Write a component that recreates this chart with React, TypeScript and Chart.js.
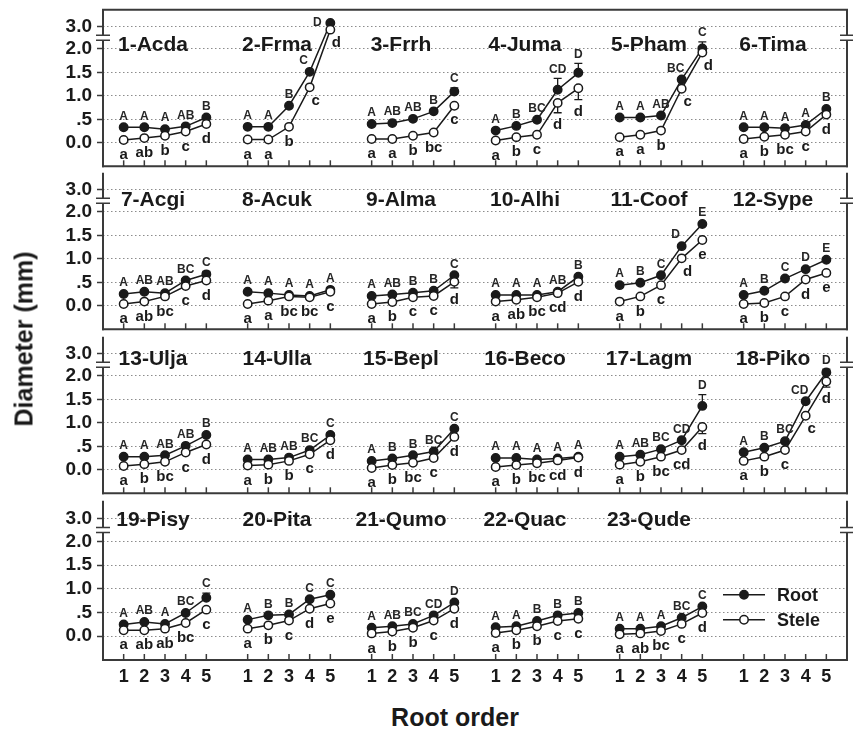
import React, { useEffect, useRef } from 'react';
import { Chart, registerables } from 'chart.js';

Chart.register(...registerables);

const FONT = '"Liberation Sans", Arial, Helvetica, sans-serif';

// ---------------- data ----------------
const panelNames = [
  '1-Acda', '2-Frma', '3-Frrh', '4-Juma', '5-Pham', '6-Tima',
  '7-Acgi', '8-Acuk', '9-Alma', '10-Alhi', '11-Coof', '12-Sype',
  '13-Ulja', '14-Ulla', '15-Bepl', '16-Beco', '17-Lagm', '18-Piko',
  '19-Pisy', '20-Pita', '21-Qumo', '22-Quac', '23-Qude',
];
const rootOrders = [1, 2, 3, 4, 5];
const yTickValues = [0, 0.5, 1.0, 1.5, 2.0, 3.0];
const yTickLabels = ['0.0', '.5', '1.0', '1.5', '2.0', '3.0'];
const seriesNames = ['Root', 'Stele'];

const rootDiameter: number[][] = [
  [0.33, 0.33, 0.29, 0.35, 0.54],
  [0.34, 0.34, 0.79, 1.51, 3.17],
  [0.40, 0.42, 0.51, 0.67, 1.09],
  [0.26, 0.36, 0.49, 1.13, 1.49],
  [0.54, 0.54, 0.58, 1.35, 2.02],
  [0.33, 0.33, 0.31, 0.38, 0.72],
  [0.25, 0.30, 0.27, 0.54, 0.67],
  [0.30, 0.27, 0.23, 0.21, 0.34],
  [0.21, 0.24, 0.28, 0.32, 0.65],
  [0.23, 0.23, 0.23, 0.30, 0.62],
  [0.44, 0.49, 0.65, 1.27, 1.74],
  [0.23, 0.32, 0.58, 0.78, 0.98],
  [0.28, 0.28, 0.31, 0.51, 0.74],
  [0.22, 0.22, 0.26, 0.42, 0.74],
  [0.19, 0.24, 0.31, 0.39, 0.875],
  [0.25, 0.25, 0.22, 0.24, 0.28],
  [0.28, 0.32, 0.44, 0.63, 1.36],
  [0.375, 0.47, 0.61, 1.46, 2.15],
  [0.25, 0.30, 0.26, 0.49, 0.81],
  [0.35, 0.44, 0.46, 0.78, 0.875],
  [0.18, 0.21, 0.26, 0.44, 0.71],
  [0.19, 0.21, 0.32, 0.44, 0.49],
  [0.16, 0.16, 0.21, 0.39, 0.625],
];

const steleDiameter: number[][] = [
  [0.06, 0.10, 0.15, 0.24, 0.40],
  [0.07, 0.07, 0.34, 1.18, 2.87],
  [0.08, 0.08, 0.15, 0.22, 0.79],
  [0.05, 0.12, 0.17, 0.85, 1.16],
  [0.12, 0.17, 0.26, 1.15, 1.92],
  [0.08, 0.13, 0.17, 0.24, 0.60],
  [0.04, 0.09, 0.20, 0.42, 0.54],
  [0.04, 0.11, 0.20, 0.18, 0.30],
  [0.04, 0.08, 0.18, 0.21, 0.51],
  [0.09, 0.13, 0.18, 0.27, 0.51],
  [0.09, 0.20, 0.44, 1.01, 1.40],
  [0.04, 0.06, 0.20, 0.56, 0.70],
  [0.08, 0.12, 0.17, 0.37, 0.54],
  [0.09, 0.11, 0.19, 0.33, 0.63],
  [0.04, 0.10, 0.15, 0.25, 0.70],
  [0.06, 0.10, 0.14, 0.20, 0.26],
  [0.11, 0.17, 0.28, 0.42, 0.91],
  [0.19, 0.28, 0.42, 1.15, 1.88],
  [0.125, 0.125, 0.16, 0.28, 0.56],
  [0.16, 0.23, 0.33, 0.58, 0.69],
  [0.06, 0.10, 0.18, 0.33, 0.58],
  [0.07, 0.125, 0.21, 0.32, 0.37],
  [0.04, 0.06, 0.11, 0.26, 0.49],
];

const rootError: number[][] = [
  [0, 0, 0, 0, 0], [0, 0, 0, 0, 0], [0, 0, 0, 0, 0.08], [0, 0, 0, 0.24, 0.2],
  [0, 0, 0, 0, 0.3], [0, 0, 0, 0, 0], [0, 0, 0, 0.03, 0.06], [0, 0, 0, 0, 0],
  [0, 0, 0, 0, 0], [0, 0, 0, 0, 0], [0, 0, 0, 0, 0], [0, 0, 0, 0, 0],
  [0, 0, 0, 0, 0], [0, 0, 0, 0, 0.05], [0, 0, 0, 0, 0], [0, 0, 0, 0, 0],
  [0, 0, 0, 0, 0.24], [0, 0, 0, 0, 0.15], [0, 0, 0, 0, 0.1], [0, 0, 0, 0, 0],
  [0, 0, 0, 0, 0], [0, 0, 0, 0, 0], [0, 0, 0, 0, 0],
];

const steleError: number[][] = [
  [0, 0, 0, 0, 0], [0, 0, 0, 0, 0], [0, 0, 0, 0, 0.05], [0, 0, 0, 0.21, 0.24],
  [0, 0, 0, 0, 0], [0, 0, 0, 0, 0], [0, 0, 0, 0, 0], [0, 0, 0, 0, 0],
  [0, 0, 0, 0, 0.13], [0, 0, 0, 0, 0], [0, 0, 0, 0, 0], [0, 0, 0, 0, 0],
  [0, 0, 0, 0, 0], [0, 0, 0, 0, 0], [0, 0, 0, 0, 0], [0, 0, 0, 0, 0],
  [0, 0, 0, 0, 0.14], [0, 0, 0, 0, 0.12], [0, 0, 0, 0, 0], [0, 0, 0, 0, 0],
  [0, 0, 0, 0, 0], [0, 0, 0, 0, 0], [0, 0, 0, 0, 0],
];

const rootLetters: string[][] = [
  ['A', 'A', 'A', 'AB', 'B'], ['A', 'A', 'B', 'C', 'D'], ['A', 'AB', 'AB', 'B', 'C'],
  ['A', 'B', 'BC', 'CD', 'D'], ['A', 'A', 'AB', 'BC', 'C'], ['A', 'A', 'A', 'A', 'B'],
  ['A', 'AB', 'AB', 'BC', 'C'], ['A', 'A', 'A', 'A', 'A'], ['A', 'AB', 'B', 'B', 'C'],
  ['A', 'A', 'A', 'AB', 'B'], ['A', 'B', 'C', 'D', 'E'], ['A', 'B', 'C', 'D', 'E'],
  ['A', 'A', 'AB', 'AB', 'B'], ['A', 'AB', 'AB', 'BC', 'C'], ['A', 'B', 'B', 'BC', 'C'],
  ['A', 'A', 'A', 'A', 'A'], ['A', 'AB', 'BC', 'CD', 'D'], ['A', 'B', 'BC', 'CD', 'D'],
  ['A', 'AB', 'A', 'BC', 'C'], ['A', 'B', 'B', 'C', 'C'], ['A', 'AB', 'BC', 'CD', 'D'],
  ['A', 'A', 'B', 'B', 'B'], ['A', 'A', 'A', 'BC', 'C'],
];

const steleLetters: string[][] = [
  ['a', 'ab', 'b', 'c', 'd'], ['a', 'a', 'b', 'c', 'd'], ['a', 'a', 'b', 'bc', 'c'],
  ['a', 'b', 'c', 'd', 'd'], ['a', 'a', 'b', 'c', 'd'], ['a', 'b', 'bc', 'c', 'd'],
  ['a', 'ab', 'bc', 'c', 'd'], ['a', 'a', 'bc', 'bc', 'c'], ['a', 'b', 'c', 'c', 'd'],
  ['a', 'ab', 'bc', 'cd', 'd'], ['a', 'b', 'c', 'd', 'e'], ['a', 'b', 'c', 'd', 'e'],
  ['a', 'b', 'bc', 'c', 'd'], ['a', 'b', 'b', 'c', 'd'], ['a', 'b', 'bc', 'c', 'd'],
  ['a', 'b', 'bc', 'cd', 'd'], ['a', 'b', 'bc', 'cd', 'd'], ['a', 'b', 'c', 'c', 'd'],
  ['a', 'ab', 'ab', 'bc', 'c'], ['a', 'b', 'c', 'd', 'e'], ['a', 'b', 'b', 'c', 'd'],
  ['a', 'b', 'b', 'c', 'c'], ['a', 'ab', 'bc', 'c', 'd'],
];

// ---------------- layout / style ----------------
const PANELS_PER_ROW = 6;
const PANEL_STEP = 6;
const ROW_TOPS = [8, 171, 335, 499];
const ROW_HEIGHTS = [160, 160, 160, 161];
const TITLE_DY = [18, 10, 5, 1];
const PX_PER_UNIT = 48;
const Y_MIN = -0.5;
const BREAK_LOW = 2;
const BREAK_HIGH = 3;
const BREAK_FACTOR = 0.47;
const INK = '#1a1a1a';
const FRAME = '#3a3a3a';

const brk = (v: number) => (v <= BREAK_LOW ? v : BREAK_LOW + (v - BREAK_LOW) * BREAK_FACTOR);

const xTickPositions: number[] = [];
for (let c = 0; c < PANELS_PER_ROW; c++) rootOrders.forEach((o) => xTickPositions.push(c * PANEL_STEP + o));

function panelsOfRow(row: number) {
  const out: number[] = [];
  for (let c = 0; c < PANELS_PER_ROW; c++) {
    const p = row * PANELS_PER_ROW + c;
    if (p < panelNames.length) out.push(p);
  }
  return out;
}

function makeDecor(row: number, isLast: boolean) {
  const panels = panelsOfRow(row);
  return {
    id: 'decor' + row,
    beforeDatasetsDraw(chart: any) {
      const { ctx, scales } = chart;
      const xs = scales.x, ys = scales.y;
      ctx.save();
      ctx.strokeStyle = INK;
      ctx.lineWidth = 1.3;
      panels.forEach((p, c) => {
        rootOrders.forEach((o, i) => {
          const x = xs.getPixelForValue(c * PANEL_STEP + o);
          const draw = (v: number, e: number) => {
            const y0 = ys.getPixelForValue(brk(v));
            const y1 = ys.getPixelForValue(brk(v + e));
            ctx.beginPath();
            ctx.moveTo(x, y0);
            ctx.lineTo(x, y1);
            ctx.moveTo(x - 4, y1);
            ctx.lineTo(x + 4, y1);
            ctx.stroke();
          };
          if (rootError[p][i] > 0) draw(rootDiameter[p][i], rootError[p][i]);
          if (steleError[p][i] > 0) draw(steleDiameter[p][i], -steleError[p][i]);
        });
      });
      ctx.restore();
    },
    afterDraw(chart: any) {
      const { ctx, chartArea: a, scales } = chart;
      const xs = scales.x, ys = scales.y;
      ctx.save();

      // significance letters
      ctx.textAlign = 'center';
      ctx.textBaseline = 'middle';
      panels.forEach((p, c) => {
        rootOrders.forEach((o, i) => {
          const x = xs.getPixelForValue(c * PANEL_STEP + o);
          const rv = rootDiameter[p][i];
          const re = rootError[p][i];
          let ux = x;
          let uy = ys.getPixelForValue(brk(rv + re)) - (re > 0 ? 9 : 11);
          const rRise = i > 0 ? rv - rootDiameter[p][i - 1] : 0;
          if (re === 0 && rRise > 0.5) ux -= 6;
          if (uy < a.top + 8) {
            uy = ys.getPixelForValue(brk(rv));
            ux = x - 13;
          }
          ctx.font = `bold 12px ${FONT}`;
          ctx.fillStyle = '#262626';
          ctx.fillText(rootLetters[p][i], ux, uy);
          const sv = steleDiameter[p][i];
          const se = steleError[p][i];
          let lx = x;
          let ly = ys.getPixelForValue(brk(sv - se)) + (se > 0 ? 12 : 15);
          const sRise = i > 0 ? sv - steleDiameter[p][i - 1] : 0;
          if (se === 0 && sRise > 0.5) {
            lx += 6;
            ly -= 2;
          }
          ctx.font = `bold 15px ${FONT}`;
          ctx.fillStyle = INK;
          ctx.fillText(steleLetters[p][i], lx, ly);
        });
        ctx.font = `bold 21px ${FONT}`;
        ctx.fillStyle = INK;
        ctx.fillText(
          panelNames[p],
          xs.getPixelForValue(c * PANEL_STEP + 3) - 12,
          ys.getPixelForValue(brk(BREAK_HIGH)) + TITLE_DY[row],
        );
      });

      // frame with axis breaks
      const yBreak = ys.getPixelForValue((BREAK_LOW + brk(BREAK_HIGH)) / 2);
      const gap = 2.5;
      ctx.strokeStyle = FRAME;
      ctx.lineWidth = 2;
      [a.left, a.right].forEach((x: number) => {
        ctx.beginPath();
        ctx.moveTo(x, a.top);
        ctx.lineTo(x, yBreak - gap);
        ctx.moveTo(x, yBreak + gap);
        ctx.lineTo(x, a.bottom + 1);
        ctx.stroke();
        ctx.save();
        ctx.lineWidth = 1.5;
        ctx.beginPath();
        ctx.moveTo(x - 7, yBreak - gap);
        ctx.lineTo(x + 7, yBreak - gap);
        ctx.moveTo(x - 7, yBreak + gap);
        ctx.lineTo(x + 7, yBreak + gap);
        ctx.stroke();
        ctx.restore();
      });
      ctx.beginPath();
      ctx.moveTo(a.left - 1, a.bottom);
      ctx.lineTo(a.right + 1, a.bottom);
      if (row === 0) {
        ctx.moveTo(a.left - 1, a.top);
        ctx.lineTo(a.right + 1, a.top);
      }
      ctx.stroke();

      ctx.lineWidth = 1.5;
      xTickPositions.forEach((v) => {
        const x = xs.getPixelForValue(v);
        ctx.beginPath();
        ctx.moveTo(x, a.bottom);
        ctx.lineTo(x, a.bottom - 6);
        ctx.stroke();
      });

      if (isLast) {
        const lx = a.left + 620;
        const rows = [a.top + 94, a.top + 119];
        seriesNames.forEach((name, k) => {
          const y = rows[k];
          ctx.strokeStyle = INK;
          ctx.lineWidth = 1.5;
          ctx.beginPath();
          ctx.moveTo(lx, y);
          ctx.lineTo(lx + 42, y);
          ctx.stroke();
          ctx.beginPath();
          ctx.arc(lx + 21, y, 4.2, 0, Math.PI * 2);
          ctx.fillStyle = k === 0 ? INK : '#ffffff';
          ctx.fill();
          ctx.stroke();
          ctx.fillStyle = INK;
          ctx.font = `bold 18px ${FONT}`;
          ctx.textAlign = 'left';
          ctx.textBaseline = 'middle';
          ctx.fillText(name, lx + 54, y + 1);
        });
      }
      ctx.restore();
    },
  };
}

function RowChart({ row }: { row: number }) {
  const ref = useRef<HTMLCanvasElement>(null);
  const isLast = row === ROW_TOPS.length - 1;
  const padTop = 4;
  const padBottom = isLast ? 2 : 4;
  const xAxisH = isLast ? 34 : 0;
  const height = ROW_HEIGHTS[row] + padTop + padBottom + xAxisH;

  useEffect(() => {
    if (!ref.current) return;
    const panels = panelsOfRow(row);
    const rootData: any[] = [];
    const steleData: any[] = [];
    panels.forEach((p, c) => {
      rootOrders.forEach((o, i) => {
        rootData.push({ x: c * PANEL_STEP + o, y: brk(rootDiameter[p][i]) });
        steleData.push({ x: c * PANEL_STEP + o, y: brk(steleDiameter[p][i]) });
      });
      rootData.push({ x: c * PANEL_STEP + 5.5, y: null });
      steleData.push({ x: c * PANEL_STEP + 5.5, y: null });
    });
    const yMax = Y_MIN + ROW_HEIGHTS[row] / PX_PER_UNIT;

    const chart = new Chart(ref.current, {
      type: 'line',
      data: {
        datasets: [
          {
            label: seriesNames[1],
            data: steleData,
            borderColor: INK,
            borderWidth: 1.5,
            pointRadius: 4.2,
            pointBackgroundColor: '#ffffff',
            pointBorderColor: INK,
            pointBorderWidth: 1.5,
            spanGaps: false,
            tension: 0,
            order: 0,
          },
          {
            label: seriesNames[0],
            data: rootData,
            borderColor: INK,
            borderWidth: 1.5,
            pointRadius: 4.2,
            pointBackgroundColor: INK,
            pointBorderColor: INK,
            pointBorderWidth: 1.5,
            spanGaps: false,
            tension: 0,
            order: 1,
          },
        ],
      },
      options: {
        animation: false,
        responsive: false,
        events: [],
        layout: { padding: { top: padTop, bottom: padBottom, left: 0, right: 6 } },
        plugins: { legend: { display: false }, tooltip: { enabled: false } },
        scales: {
          x: {
            type: 'linear',
            min: 0,
            max: PANELS_PER_ROW * PANEL_STEP,
            display: isLast,
            afterBuildTicks: (s: any) => {
              s.ticks = xTickPositions.map((v) => ({ value: v }));
            },
            afterFit: (s: any) => {
              s.height = xAxisH;
              s.paddingLeft = 0;
              s.paddingRight = 0;
            },
            ticks: {
              autoSkip: false,
              maxRotation: 0,
              padding: 6,
              color: INK,
              font: { family: FONT, size: 18, weight: 'bold' },
              callback: (v: any) => String(rootOrders[((Number(v) - 1) % PANEL_STEP)]),
            },
            grid: { display: false, drawTicks: false },
            border: { display: false },
          },
          y: {
            type: 'linear',
            min: Y_MIN,
            max: yMax,
            afterBuildTicks: (s: any) => {
              s.ticks = yTickValues.map((v) => ({ value: brk(v) }));
            },
            afterFit: (s: any) => {
              s.width = 103;
              s.paddingTop = 0;
              s.paddingBottom = 0;
            },
            ticks: {
              autoSkip: false,
              padding: 5,
              color: INK,
              font: { family: FONT, size: 19, weight: 'bold' },
              callback: (_v: any, i: number) => yTickLabels[i],
            },
            grid: { color: '#8c8c8c', lineWidth: 1, drawTicks: true, tickLength: 6, tickColor: FRAME, tickWidth: 1.5 },
            border: { display: false, dash: [1.5, 2.5] },
          },
        },
      },
      plugins: [makeDecor(row, isLast)],
    } as any);
    return () => chart.destroy();
  }, [row]);

  return (
    <canvas
      ref={ref}
      width={853}
      height={height}
      style={{ position: 'absolute', left: 0, top: ROW_TOPS[row] - padTop, display: 'block' }}
    />
  );
}

export default function App() {
  return (
    <div
      style={{
        position: 'absolute',
        left: 0,
        top: 0,
        width: 853,
        height: 731,
        background: '#ffffff',
        overflow: 'hidden',
        fontFamily: FONT,
      }}
    >
      {ROW_TOPS.map((_, r) => (
        <RowChart key={r} row={r} />
      ))}
      <div
        style={{
          position: 'absolute',
          left: 24,
          top: 339,
          transform: 'translate(-50%, -50%) rotate(-90deg)',
          whiteSpace: 'nowrap',
          fontWeight: 'bold',
          fontSize: 25,
          color: INK,
        }}
      >
        Diameter (mm)
      </div>
      <div
        style={{
          position: 'absolute',
          left: 455,
          top: 717,
          transform: 'translate(-50%, -50%)',
          whiteSpace: 'nowrap',
          fontWeight: 'bold',
          fontSize: 25,
          color: INK,
        }}
      >
        Root order
      </div>
    </div>
  );
}
